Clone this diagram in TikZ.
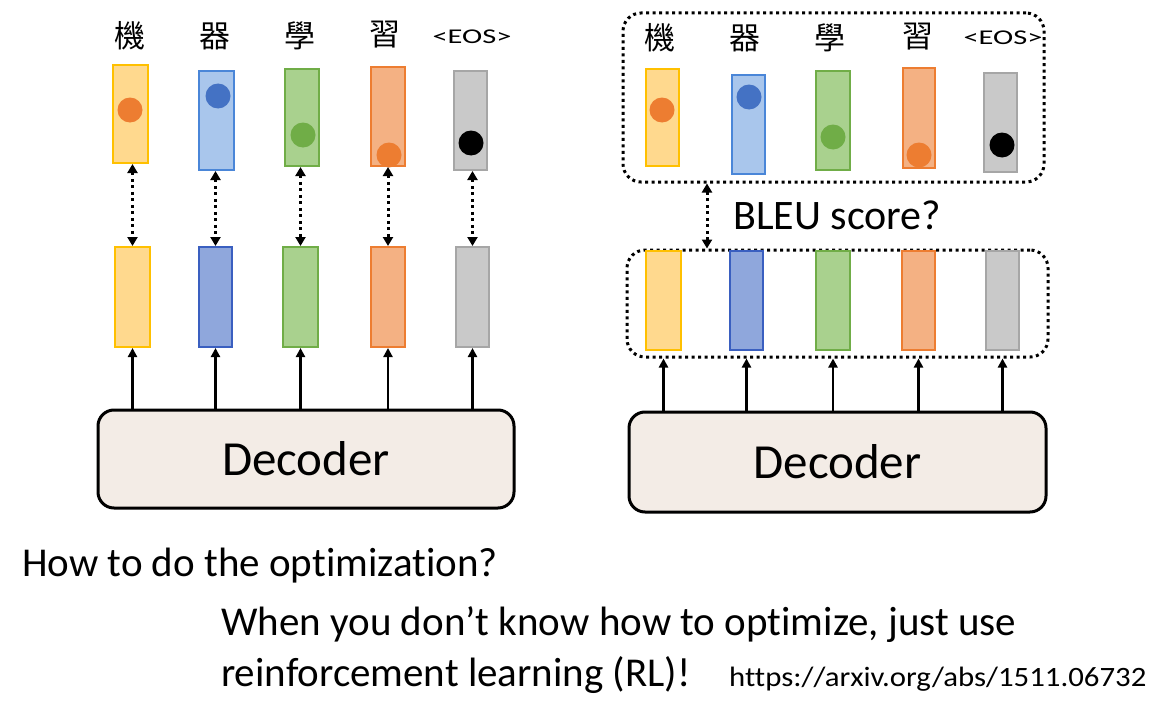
\documentclass[tikz,border=0pt]{standalone}
\usepackage{fontspec}
\setmainfont{Carlito}[Ligatures=NoCommon]
\newfontfamily\cjk{Noto Sans CJK TC}
\usetikzlibrary{arrows.meta}
\definecolor{yelF}{HTML}{FFD98E}\definecolor{yelD}{HTML}{FFC000}
\definecolor{bluF}{HTML}{A9C6EC}\definecolor{bluD}{HTML}{4A86D8}
\definecolor{blu2F}{HTML}{8FA7DC}\definecolor{blu2D}{HTML}{3A5FC0}
\definecolor{grnF}{HTML}{A9D18E}\definecolor{grnD}{HTML}{70AD47}
\definecolor{orgF}{HTML}{F4B183}\definecolor{orgD}{HTML}{ED7D31}
\definecolor{gryF}{HTML}{C9C9C9}\definecolor{gryD}{HTML}{A6A6A6}
\definecolor{dotB}{HTML}{4472C4}
\definecolor{decF}{HTML}{F3ECE6}
\newcommand{\eostext}{\scalebox{1.45}[1]{\fontsize{21}{24}\selectfont <EOS>}}
\tikzset{
  vec/.style={draw, line width=2pt, inner sep=0pt},
  ball/.style={circle, inner sep=0pt, minimum size=25pt},
  dotline/.style={line width=3pt, dash pattern=on 3pt off 3.5pt},
  dotarrow/.style={dotline, {Triangle[width=10pt,length=9pt]}-{Triangle[width=10pt,length=9pt]}},
  solarrow/.style={line width=2.2pt, -{Triangle[width=9pt,length=9pt]}},
  frame/.style={draw, dotline, rounded corners=18pt, inner sep=0pt},
  dec/.style={draw, line width=3pt, rounded corners=16pt, fill=decF, inner sep=0pt, font=\fontsize{49}{52}\selectfont},
  cjklab/.style={font=\cjk\fontsize{31}{33}\selectfont, inner sep=0pt},
  eoslab/.style={inner sep=0pt},
  bigtext/.style={font=\fontsize{41}{45}\selectfont, inner sep=0pt, anchor=west},
}
\begin{document}
\begin{tikzpicture}[x=1pt,y=-1pt]
\useasboundingbox (0,0) rectangle (1170,709);
% ---------- left panel ----------
\node[cjklab] (lw1) at (130,36) {機};
\node[cjklab] (lw2) at (215,36) {器};
\node[cjklab] (lw3) at (300,36) {學};
\node[cjklab] (lw4) at (385,35) {習};
\node[eoslab] (lw5) at (472,37) {\eostext};
\node[vec, fill=yelF, draw=yelD, minimum width=35pt, minimum height=98pt] (L1) at (130.5,114) {};
\node[vec, fill=bluF, draw=bluD, minimum width=35pt, minimum height=99pt] (L2) at (216.5,120.5) {};
\node[vec, fill=grnF, draw=grnD, minimum width=34pt, minimum height=97pt] (L3) at (302,117.5) {};
\node[vec, fill=orgF, draw=orgD, minimum width=34pt, minimum height=99pt] (L4) at (388,116.5) {};
\node[vec, fill=gryF, draw=gryD, minimum width=33pt, minimum height=99pt] (L5) at (470.5,120.5) {};
\node[ball, fill=orgD] (ld1) at (130,110) {};
\node[ball, fill=dotB] (ld2) at (218,96) {};
\node[ball, fill=grnD] (ld3) at (303,135) {};
\node[ball, fill=orgD] (ld4) at (389,155) {};
\node[ball, fill=black] (ld5) at (471,143) {};
\node[vec, fill=yelF, draw=yelD, minimum width=35pt, minimum height=100pt] (B1) at (132.5,297) {};
\node[vec, fill=blu2F, draw=blu2D, minimum width=33pt, minimum height=100pt] (B2) at (215.5,297) {};
\node[vec, fill=grnF, draw=grnD, minimum width=35pt, minimum height=100pt] (B3) at (300.5,297) {};
\node[vec, fill=orgF, draw=orgD, minimum width=34pt, minimum height=100pt] (B4) at (388,297) {};
\node[vec, fill=gryF, draw=gryD, minimum width=33pt, minimum height=100pt] (B5) at (472.5,297) {};
\foreach \i in {1,...,5} {
  \draw[dotarrow] (B\i.north |- L\i.south) -- (B\i.north);
}
\node[dec, minimum width=416pt, minimum height=98pt] (DL) at (306,459) {Decoder};
\foreach \i in {1,...,5} {
  \draw[solarrow] (B\i.south |- DL.north) -- (B\i.south);
}
% ---------- right panel ----------
\node[frame, minimum width=421pt, minimum height=169pt] (TF) at (833.5,97.5) {};
\node[cjklab] (rw1) at (660,38) {機};
\node[cjklab] (rw2) at (745,38) {器};
\node[cjklab] (rw3) at (830,38) {學};
\node[cjklab] (rw4) at (918,37) {習};
\node[eoslab] (rw5) at (1003,38) {\eostext};
\node[vec, fill=yelF, draw=yelD, minimum width=33pt, minimum height=97pt] (R1) at (662.5,117.5) {};
\node[vec, fill=bluF, draw=bluD, minimum width=33pt, minimum height=99pt] (R2) at (748.5,124.5) {};
\node[vec, fill=grnF, draw=grnD, minimum width=34pt, minimum height=99pt] (R3) at (833,120.5) {};
\node[vec, fill=orgF, draw=orgD, minimum width=32pt, minimum height=100pt] (R4) at (919,118) {};
\node[vec, fill=gryF, draw=gryD, minimum width=33pt, minimum height=99pt] (R5) at (1000.5,122.5) {};
\node[ball, fill=orgD] (rd1) at (662,110) {};
\node[ball, fill=dotB] (rd2) at (749,97) {};
\node[ball, fill=grnD] (rd3) at (833,137) {};
\node[ball, fill=orgD] (rd4) at (919,155) {};
\node[ball, fill=black] (rd5) at (1002,145) {};
\node[frame, minimum width=421pt, minimum height=107pt] (BF) at (837.5,303.5) {};
\node[vec, fill=yelF, draw=yelD, minimum width=35pt, minimum height=99pt] (S1) at (663.5,300.5) {};
\node[vec, fill=blu2F, draw=blu2D, minimum width=33pt, minimum height=99pt] (S2) at (746.5,300.5) {};
\node[vec, fill=grnF, draw=grnD, minimum width=34pt, minimum height=99pt] (S3) at (833,300.5) {};
\node[vec, fill=orgF, draw=orgD, minimum width=33pt, minimum height=99pt] (S4) at (918.5,300.5) {};
\node[vec, fill=gryF, draw=gryD, minimum width=33pt, minimum height=99pt] (S5) at (1002.5,300.5) {};
\coordinate (bx) at (707,0);
\draw[dotarrow] (bx |- TF.south) -- (bx |- BF.north);
\node[font=\fontsize{42}{46}\selectfont, inner sep=0pt, anchor=west] (bleu) at (733,215) {BLEU score?};
\node[dec, minimum width=417pt, minimum height=100pt] (DR) at (837.5,462) {Decoder};
\foreach \i in {1,...,5} {
  \draw[solarrow] (S\i.south |- DR.north) -- (S\i.south |- BF.south);
}
% ---------- bottom text ----------
\node[bigtext] (q) at (22,566) {How to do the optimization?};
\node[bigtext] (a1) at (221,625) {When you don’t know how to optimize, just use};
\node[bigtext] (a2) at (221,675) {reinforcement learning (RL)!};
\node[inner sep=0pt, anchor=west] (url) at (729,679) {\scalebox{1.1}[1]{\fontsize{28}{32}\selectfont https://arxiv.org/abs/1511.06732}};
\end{tikzpicture}
\end{document}
